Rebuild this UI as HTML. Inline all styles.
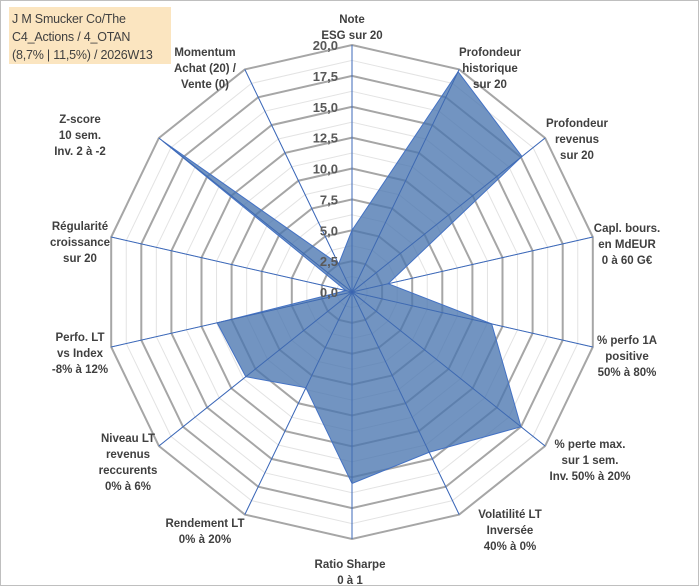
<!DOCTYPE html>
<html><head><meta charset="utf-8">
<style>
body{margin:0;background:#fff;}
#wrap{position:relative;width:700px;height:587px;overflow:hidden;font-family:"Liberation Sans",sans-serif;}
#title{position:absolute;left:9px;top:7px;width:162px;height:57px;background:#fbe5c0;color:#404040;font-size:12.5px;line-height:18px;padding:3px 0 0 3px;box-sizing:border-box;white-space:nowrap;letter-spacing:-0.2px;font-family:"Liberation Sans",sans-serif;}
</style></head>
<body>
<div id="wrap">
<svg id="chart" width="700" height="587">
<rect x="0.5" y="0.5" width="698" height="585" fill="#fff" stroke="#bfbfbf"/>
</svg>
<div id="title">J M Smucker Co/The<br>C4_Actions / 4_OTAN<br>(8,7% | 11,5%) / 2026W13</div>
</div>
<script>
const categories = [
 ["Note","ESG sur 20"],
 ["Profondeur","historique","sur 20"],
 ["Profondeur","revenus","sur 20"],
 ["Capl. bours.","en MdEUR","0 à 60 G€"],
 ["% perfo 1A","positive","50% à 80%"],
 ["% perte max.","sur 1 sem.","Inv. 50% à 20%"],
 ["Volatilité LT","Inversée","40% à 0%"],
 ["Ratio Sharpe","0 à 1"],
 ["Rendement LT","0% à 20%"],
 ["Niveau LT","revenus","reccurents","0% à 6%"],
 ["Perfo. LT","vs Index","-8% à 12%"],
 ["Régularité","croissance","sur 20"],
 ["Z-score","10 sem.","Inv. 2 à -2"],
 ["Momentum","Achat (20) /","Vente (0)"]
];
const values = [5.0, 19.8, 17.6, 3.0, 11.6, 17.5, 14.4, 15.5, 8.6, 11.0, 11.2, 0.5, 19.6, 2.5];
const tickValues = [0, 2.5, 5, 7.5, 10, 12.5, 15, 17.5, 20];
const tickLabels = ["0,0","2,5","5,0","7,5","10,0","12,5","15,0","17,5","20,0"];
const labelPos = [[352,12],[490,45],[577,116],[627,221],[627,333],[590,437],[510,507],[350,557],[205,516],[128,431],[80,330],[80,219],[80,112],[205,45]];

const svg = document.getElementById('chart');
const NS = 'http://www.w3.org/2000/svg';
const cx = 352, cy = 292, R = 247, maxV = 20;
const N = categories.length;
function ang(i){ return i * 2 * Math.PI / N; }
function rScale(v){ return v / maxV * R; }
function pt(i, v){ const r = rScale(v), a = ang(i); return [cx + r*Math.sin(a), cy - r*Math.cos(a)]; }
function mk(tag, attrs){ const e = document.createElementNS(NS, tag); for (const k in attrs) e.setAttribute(k, attrs[k]); svg.appendChild(e); return e; }

for (let k = 1; k <= 16; k++) {
  const v = k * 1.25;
  const pts = [];
  for (let i = 0; i < N; i++) pts.push(pt(i, v).join(','));
  const major = k % 2 === 0;
  const g = mk('polygon', {points: pts.join(' '), fill: 'none', stroke: major ? '#a6a6a6' : '#e3e3e3', 'stroke-width': major ? 2 : 1});
  
  
}
for (let i = 0; i < N; i++) {
  const [x, y] = pt(i, maxV);
  const l = mk('line', {x1: cx, y1: cy, x2: x, y2: y, stroke: '#4472c4', 'stroke-width': 1});
  
  
}
const dpts = values.map((v, i) => pt(i, v).join(',')).join(' ');
const area = mk('polygon', {points: dpts, fill: '#4a76b0', 'fill-opacity': 0.78, stroke: '#4472c4', 'stroke-width': 1});


for (let i = 0; i < N; i++) {
  const [x, y] = pt(i, maxV);
  const l = mk('line', {x1: cx, y1: cy, x2: x, y2: y, stroke: '#3a64b0', 'stroke-width': 0.8, 'stroke-opacity': 0.7});
  
  
}
tickValues.forEach((v, j) => {
  const t = mk('text', {x: 338, y: cy - rScale(v) + 5, 'text-anchor': 'end', 'font-size': 13, 'font-weight': 'bold', fill: '#595959', 'font-family': 'Liberation Sans, sans-serif'});
  t.textContent = tickLabels[j];
  
  
});
categories.forEach((lines, i) => {
  const [x, y] = labelPos[i];
  const t = mk('text', {x: x, y: y + 11, 'text-anchor': 'middle', 'font-size': 11.5, 'font-weight': 'bold', fill: '#404040', 'font-family': 'Liberation Sans, sans-serif'});
  
  
  lines.forEach((s, k) => {
    const ts = document.createElementNS(NS, 'tspan');
    ts.setAttribute('x', x);
    ts.setAttribute('dy', k === 0 ? 0 : 16);
    ts.textContent = s;
    t.appendChild(ts);
  });
});
</script>
</body></html>
